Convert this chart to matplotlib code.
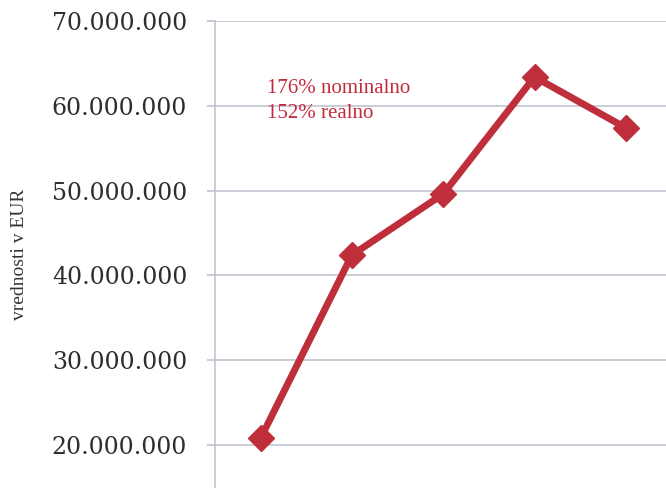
import matplotlib
matplotlib.use("Agg")
import matplotlib.pyplot as plt
from matplotlib.ticker import FuncFormatter

# Values in EUR for five consecutive periods
periods = ["1", "2", "3", "4", "5"]
values = [20_800_000, 42_400_000, 49_600_000, 63_400_000, 57_400_000]
y_ticks = [20_000_000, 30_000_000, 40_000_000, 50_000_000, 60_000_000, 70_000_000]
notes = ["176% nominalno", "152% realno"]

line_red = "#bf2f3b"
text_red = "#c42a3e"
grid_col = "#b9c0ce"

fig = plt.figure(figsize=(6.66, 4.88), dpi=100)
ax = fig.add_axes([0.3228, 0.0, 0.6772, 0.957])

x = list(range(len(periods)))
ax.plot(x, values, color=line_red, lw=5, marker="D", ms=13.5,
        mfc=line_red, mec=line_red, solid_joinstyle="round", zorder=3)

ax.set_xlim(-0.5, 4.44)
ax.set_ylim(14_930_000, 70_000_000)
ax.set_yticks(y_ticks)
ax.yaxis.set_major_formatter(FuncFormatter(lambda v, p: f"{int(v):,}".replace(",", ".")))
ax.set_xticks([])

ax.grid(axis="y", color=grid_col, lw=1.1)
ax.tick_params(axis="y", length=6, width=1.1, color=grid_col, pad=14,
               labelsize=17, labelcolor="#2e2e2e")
for lbl in ax.get_yticklabels():
    lbl.set_family("DejaVu Serif")

for side in ("top", "right", "bottom"):
    ax.spines[side].set_visible(False)
ax.spines["left"].set_color(grid_col)
ax.spines["left"].set_linewidth(1.1)

fig.text(0.030, 0.478, "vrednosti v EUR", rotation=90, ha="center", va="center",
         family="Liberation Serif", fontsize=14, color="#333333")

fig.text(0.401, 0.818, notes[0], ha="left", va="center",
         family="Liberation Serif", fontsize=15, color=text_red)
fig.text(0.401, 0.767, notes[1], ha="left", va="center",
         family="Liberation Serif", fontsize=15, color=text_red)

fig.savefig("out.png", dpi=100)
